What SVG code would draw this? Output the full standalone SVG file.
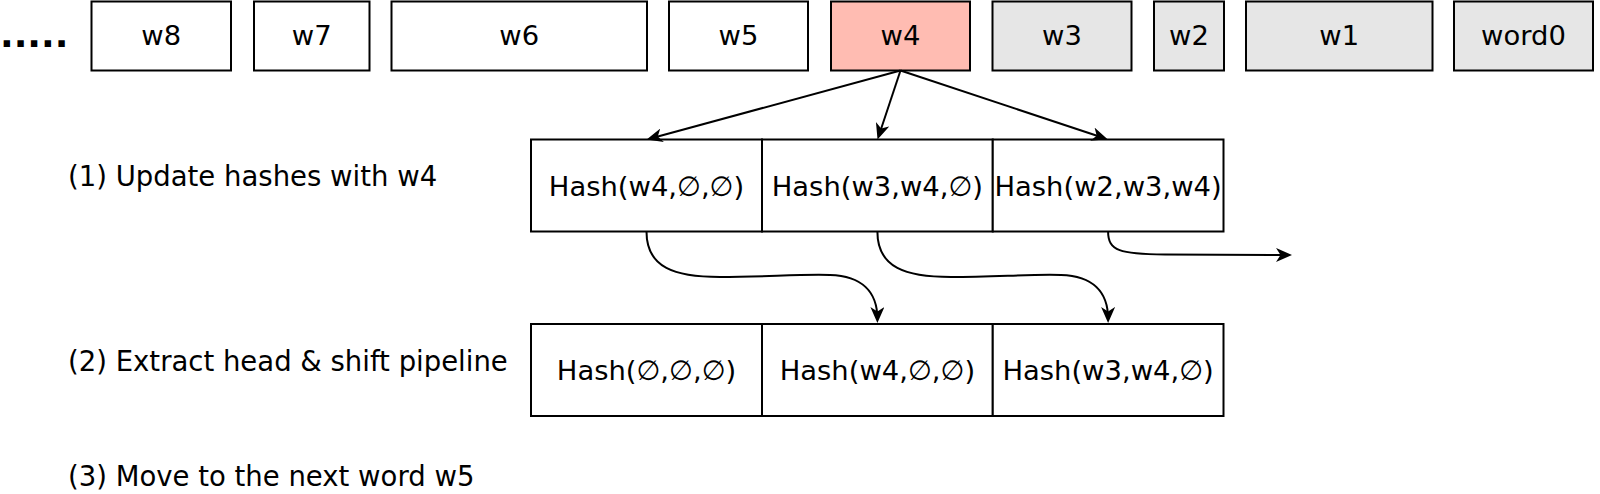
<svg xmlns="http://www.w3.org/2000/svg" width="1600" height="494" viewBox="0 0 1600 494">
<style>
  .box { fill: #ffffff; stroke: #000000; stroke-width: 2; }
  .done { fill: #e6e6e6; }
  .cur { fill: #ffbcb2; }
  .t { font-family: "DejaVu Sans", "Liberation Sans", sans-serif; font-size: 27.4px; fill: #000000; text-anchor: middle; }
  .lbl { font-family: "DejaVu Sans", "Liberation Sans", sans-serif; font-size: 27.5px; fill: #000000; }
  .dots { font-family: "DejaVu Sans", "Liberation Sans", sans-serif; font-size: 36px; font-weight: bold; fill: #000000; }
  .edge { fill: none; stroke: #000000; stroke-width: 2; }
</style>
<defs>
  <marker id="arr" markerUnits="userSpaceOnUse" markerWidth="16" markerHeight="14" viewBox="0 0 16 14" refX="12" refY="7" orient="auto">
    <path d="M0,0 L16,7 L0,14 L4.5,7 Z" fill="#000000"/>
  </marker>
</defs>
<rect width="1600" height="494" fill="#ffffff"/>

<text class="dots" x="0" y="46.5">.....</text>

<g id="w8"><rect class="box" x="91.5" y="1.5" width="139.5" height="69"/><text class="t" x="161.25" y="45">w8</text></g>
<g id="w7"><rect class="box" x="254" y="1.5" width="115.5" height="69"/><text class="t" x="311.75" y="45">w7</text></g>
<g id="w6"><rect class="box" x="391.5" y="1.5" width="255.5" height="69"/><text class="t" x="519.25" y="45">w6</text></g>
<g id="w5"><rect class="box" x="669" y="1.5" width="139" height="69"/><text class="t" x="738.5" y="45">w5</text></g>
<g id="w4"><rect class="box cur" x="831" y="1.5" width="139" height="69"/><text class="t" x="900.5" y="45">w4</text></g>
<g id="w3"><rect class="box done" x="992.5" y="1.5" width="139" height="69"/><text class="t" x="1062" y="45">w3</text></g>
<g id="w2"><rect class="box done" x="1154" y="1.5" width="70" height="69"/><text class="t" x="1189" y="45">w2</text></g>
<g id="w1"><rect class="box done" x="1246" y="1.5" width="186.5" height="69"/><text class="t" x="1339.25" y="45">w1</text></g>
<g id="word0"><rect class="box done" x="1454" y="1.5" width="139" height="69"/><text class="t" x="1523.5" y="45">word0</text></g>

<g id="label1"><text class="lbl" x="68" y="185.5">(1) Update hashes with w4</text></g>
<g id="label2"><text class="lbl" x="68" y="370.5">(2) Extract head &amp; shift pipeline</text></g>
<g id="label3"><text class="lbl" x="68" y="485.5">(3) Move to the next word w5</text></g>

<g id="h1a"><rect class="box" x="531" y="139.5" width="231" height="92"/><text class="t" x="646.5" y="195.5">Hash(w4,∅,∅)</text></g>
<g id="h1b"><rect class="box" x="762" y="139.5" width="230.75" height="92"/><text class="t" x="877.4" y="195.5">Hash(w3,w4,∅)</text></g>
<g id="h1c"><rect class="box" x="992.75" y="139.5" width="230.75" height="92"/><text class="t" x="1108.1" y="195.5">Hash(w2,w3,w4)</text></g>

<g id="h2a"><rect class="box" x="531" y="324" width="231" height="92"/><text class="t" x="646.5" y="380">Hash(∅,∅,∅)</text></g>
<g id="h2b"><rect class="box" x="762" y="324" width="230.75" height="92"/><text class="t" x="877.4" y="380">Hash(w4,∅,∅)</text></g>
<g id="h2c"><rect class="box" x="992.75" y="324" width="230.75" height="92"/><text class="t" x="1108.1" y="380">Hash(w3,w4,∅)</text></g>

<g id="connectors">
  <path class="edge" marker-end="url(#arr)" d="M900.5,70.5 L650.5,138.5"/>
  <path class="edge" marker-end="url(#arr)" d="M900.5,70.5 L878.8,135.7"/>
  <path class="edge" marker-end="url(#arr)" d="M900.5,70.5 L1103.8,138"/>
  <path class="edge" marker-end="url(#arr)" d="M646.5,231.5 C646.5,268 675,277 720,277 S800,274 830,275 C862,276 877.4,292 877.4,319"/>
  <path class="edge" marker-end="url(#arr)" d="M877.4,231.5 C877.4,268 906,277 951,277 S1031,274 1061,275 C1093,276 1108.1,292 1108.1,319"/>
  <path class="edge" marker-end="url(#arr)" d="M1108.1,231.5 C1108.1,251 1120,254 1165,254.5 L1288,255"/>
</g>
</svg>
